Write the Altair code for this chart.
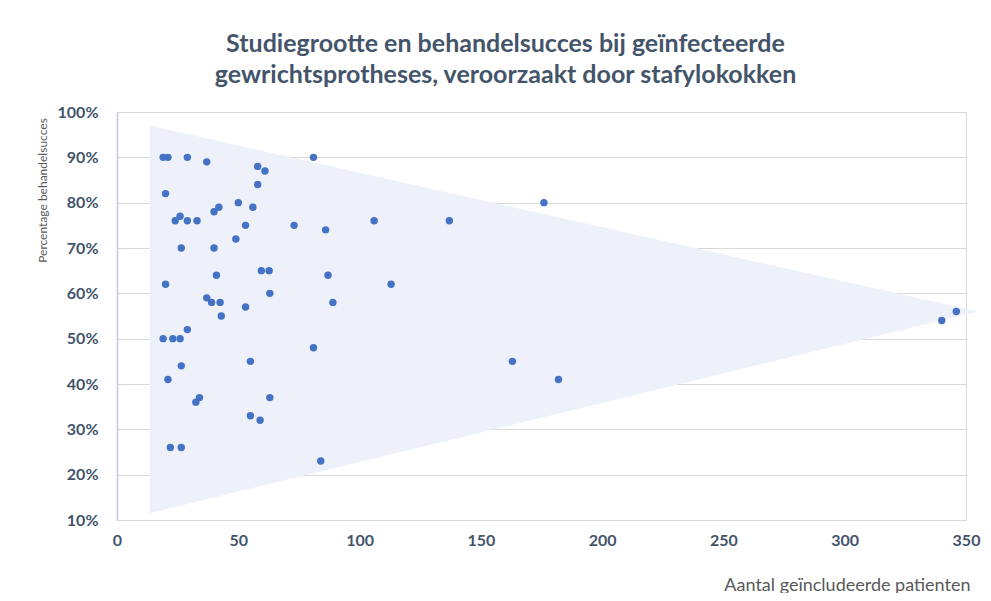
import altair as alt
import pandas as pd

# Study size (patients) and treatment success (%)
patients = [19, 21, 29, 37, 58, 61, 58, 20, 50, 56, 42, 40, 26, 24, 29, 33, 53, 73,
            49, 26.5, 40, 41, 59.5, 62.7, 20, 63, 37, 39, 42.5, 53, 43,
            19, 23, 26, 29, 26.5, 55, 21, 34, 32.5, 63, 55, 59, 22, 26.5,
            81, 176, 106, 137, 86, 87, 113, 89, 81, 163, 182, 84, 340, 346]
success = [90, 90, 90, 89, 88, 87, 84, 82, 80, 79, 79, 78, 77, 76, 76, 76, 75, 75,
           72, 70, 70, 64, 65, 65, 62, 60, 59, 58, 58, 57, 55,
           50, 50, 50, 52, 44, 45, 41, 37, 36, 37, 33, 32, 26, 26,
           90, 80, 76, 76, 74, 64, 62, 58, 48, 45, 41, 23, 54, 56]

# Funnel (shaded triangle)
funnel_x = [13.5, 355]
funnel_top = [97, 56]
funnel_bottom = [11.5, 56]

x_ticks = [0, 50, 100, 150, 200, 250, 300, 350]
y_ticks = [0.1, 0.2, 0.3, 0.4, 0.5, 0.6, 0.7, 0.8, 0.9, 1.0]

pts = pd.DataFrame({"x": patients, "y": [v / 100 for v in success]})
fun = pd.DataFrame({"x": funnel_x,
                    "top": [v / 100 for v in funnel_top],
                    "bottom": [v / 100 for v in funnel_bottom]})

FONT = "Lato"
LBL = "#44546A"
TXT = "#595959"

xscale = alt.Scale(domain=[0, 350], nice=False, zero=False)
yscale = alt.Scale(domain=[0.1, 1.0], nice=False, zero=False)

xaxis = alt.Axis(values=x_ticks, title="Aantal geïncludeerde patienten", grid=False,
                 ticks=False, domain=False, labelPadding=12, labelFontSize=16,
                 labelFont=FONT, labelColor=LBL, labelFontWeight="bold",
                 labelFlush=False,
                 titleFont=FONT, titleFontSize=18, titleFontWeight="normal",
                 titleColor=TXT, titleX=853, titleY=74, titleAlign="right",
                 titleBaseline="bottom")
yaxis = alt.Axis(values=y_ticks, format=".0%", title="Percentage behandelsucces",
                 grid=True, gridColor="#D9D9D9", gridWidth=1.2, ticks=False,
                 domain=True, domainColor="#C5C9DD", domainWidth=1.5,
                 labelPadding=19, labelFontSize=16, labelFont=FONT,
                 labelColor=LBL, labelFontWeight="bold", labelFlush=False,
                 titleFont=FONT, titleFontSize=12, titleFontWeight="normal",
                 titleColor=TXT, titleX=-75, titleY=78, titleAlign="center",
                 titleBaseline="middle", titleAngle=-90)

area = alt.Chart(fun).mark_area(color="#EEF1F9", opacity=1, clip=False).encode(
    x=alt.X("x:Q", scale=xscale, axis=xaxis),
    y=alt.Y("top:Q", scale=yscale, axis=yaxis),
    y2="bottom:Q",
)

dots = alt.Chart(pts).mark_circle(size=55, color="#4472C4", opacity=1).encode(
    x=alt.X("x:Q", scale=xscale),
    y=alt.Y("y:Q", scale=yscale),
)

chart = alt.layer(area, dots).properties(
    width=849, height=408,
    title=alt.TitleParams(
        ["Studiegrootte en behandelsucces bij geïnfecteerde",
         "gewrichtsprotheses, veroorzaakt door stafylokokken"],
        anchor="middle", dx=-36, fontSize=25, font=FONT, fontWeight="bold",
        color="#44546A", lineHeight=31, offset=16),
    autosize=alt.AutoSizeParams(type="none"),
    padding={"left": 109, "top": 104, "right": 16, "bottom": 73},
).configure_view(stroke=None).configure(background="white")

chart.save("out.html", embed_options={"renderer": "svg", "actions": False})
